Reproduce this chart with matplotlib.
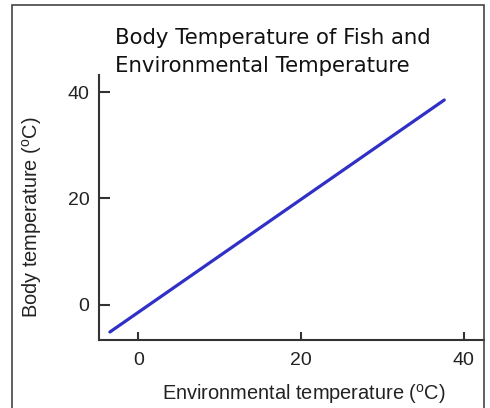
import matplotlib
matplotlib.use("Agg")
import matplotlib.pyplot as plt
from matplotlib.patches import Rectangle

# data
env_temp = [-3.5, 37.6]
body_temp = [-5.1, 38.5]
x_ticks = [0, 20, 40]
y_ticks = [0, 20, 40]

plt.rcParams["mathtext.fontset"] = "custom"
plt.rcParams["mathtext.rm"] = "Liberation Sans"

fig = plt.figure(figsize=(4.9, 4.08), dpi=100)
ax = fig.add_axes([0.202, 0.1667, 0.786, 0.6495])

ax.plot(env_temp, body_temp, color="#3030c8", linewidth=2.3, solid_capstyle="round")

ax.set_xlim(-4.84, 42.5)
ax.set_ylim(-6.6, 43.2)
ax.set_xticks(x_ticks)
ax.set_yticks(y_ticks)

for side in ("top", "right"):
    ax.spines[side].set_visible(False)
for side in ("left", "bottom"):
    ax.spines[side].set_color("#333333")
    ax.spines[side].set_linewidth(1.5)

ax.tick_params(axis="y", direction="in", length=8, width=1.5, color="#333333",
               labelsize=14, pad=7)
ax.tick_params(axis="x", direction="in", length=6, width=1.5, color="#333333",
               labelsize=14, pad=9)
for lbl in ax.get_xticklabels() + ax.get_yticklabels():
    lbl.set_fontfamily("Liberation Sans")
    lbl.set_color("#222222")

fig.text(0.620, 0.035, r"Environmental temperature ($^{\mathrm{o}}$C)", fontsize=14.4,
         family="Liberation Sans", color="#222222", ha="center", va="center")
fig.text(0.065, 0.468, r"Body temperature ($^{\mathrm{o}}$C)", fontsize=14.4,
         family="Liberation Sans", color="#222222", ha="center", va="center",
         rotation=90)

fig.text(0.235, 0.8235, "Body Temperature of Fish and\nEnvironmental Temperature",
         fontsize=15.3, family="DejaVu Sans", color="#111111",
         ha="left", va="baseline", linespacing=1.5)

fig.patches.append(Rectangle((0.0245, -0.02), 0.9635, 1.008, transform=fig.transFigure,
                             fill=False, edgecolor="#444444", linewidth=1.2))

fig.savefig("out.png", dpi=100)
